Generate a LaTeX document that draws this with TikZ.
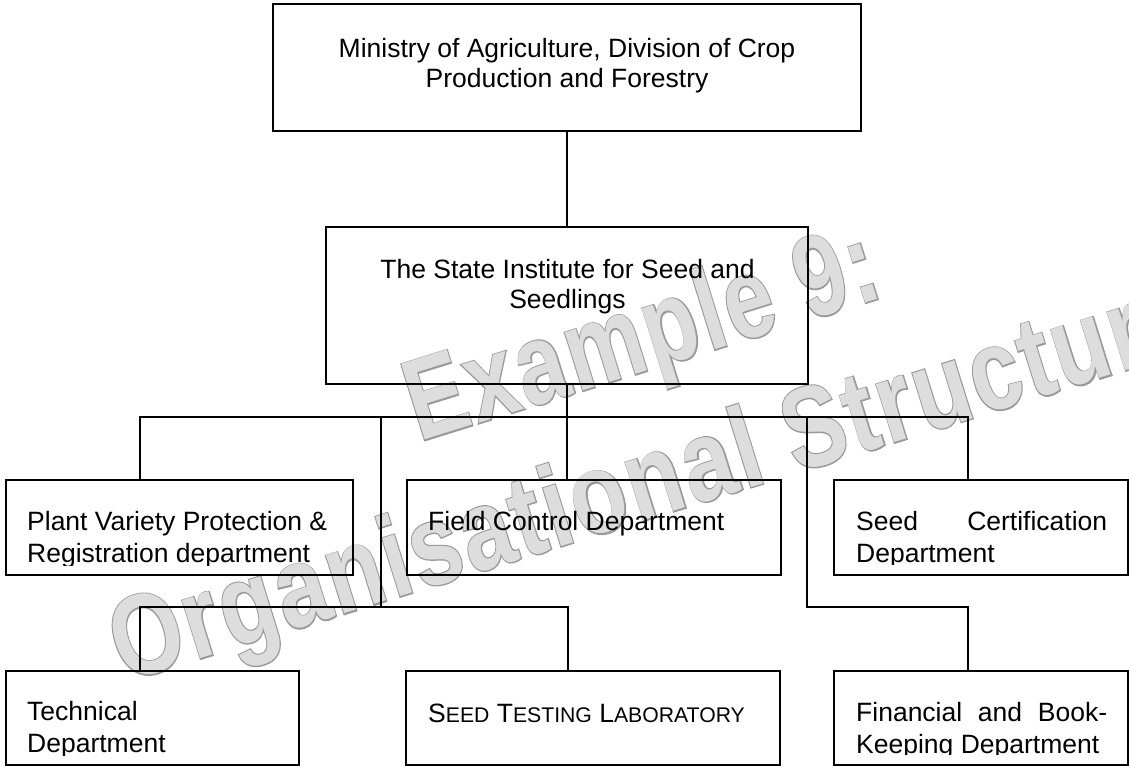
\documentclass[tikz,border=0pt]{standalone}
\usepackage{fontspec}
\setmainfont{Liberation Sans}
\newfontfamily\wmfillfont{Liberation Sans Bold}[LetterSpace=3]
\newfontfamily\wmedgefont{Liberation Sans Bold}[LetterSpace=3,FakeBold=2.2]
\usetikzlibrary{calc}
\definecolor{wmfill}{HTML}{DDDDDD}
\definecolor{wmedge}{HTML}{9A9A9A}
\newcommand{\toplblsize}{\fontsize{26.5pt}{30pt}\selectfont}
\newcommand{\lowlblsize}{\fontsize{26.5pt}{32pt}\selectfont}
\newcommand{\sclow}[1]{{\fontsize{21.2pt}{32pt}\selectfont #1}}
\newcommand{\wmtext}[3]{\scalebox{#1}[1]{\fontsize{115pt}{115pt}\selectfont#2 #3}}
\tikzset{
  box/.style={draw, line width=1.7pt, inner sep=0pt, outer sep=0pt, anchor=north west},
  conn/.style={line width=1.3pt},
  toplbl/.style={inner sep=0pt, anchor=base, font=\toplblsize},
  lowlbl/.style={inner sep=0pt, anchor=base west, font=\lowlblsize},
  wm/.style={inner sep=0pt, anchor=base west, rotate=17.3},
}
\begin{document}
\begin{tikzpicture}[x=1pt, y=-1pt]
\useasboundingbox (0,0) rectangle (1129,766);

% watermark (behind everything)
\node[wm, text=wmedge] (wm1e) at (393,450) {\wmtext{0.77}{\wmedgefont}{Example 9:}};
\node[wm, text=wmedge] (wm2e) at (97,691) {\wmtext{0.795}{\wmedgefont}{Organisational Structure}};
\node[wm, text=wmfill] (wm1f) at (393,450) {\wmtext{0.77}{\wmfillfont}{Example 9:}};
\node[wm, text=wmfill] (wm2f) at (97,691) {\wmtext{0.795}{\wmfillfont}{Organisational Structure}};

% boxes
\node[box, minimum width=588pt, minimum height=127pt] (top) at (273,4) {};
\node[box, minimum width=482pt, minimum height=157pt] (inst) at (326,227) {};
\node[box, minimum width=347pt, minimum height=95pt] (pv) at (6,480) {};
\node[box, minimum width=374pt, minimum height=95pt] (fc) at (407,480) {};
\node[box, minimum width=294pt, minimum height=95pt] (sc) at (834,480) {};
\node[box, minimum width=293pt, minimum height=94pt] (tech) at (6,671) {};
\node[box, minimum width=374pt, minimum height=94pt] (test) at (406,671) {};
\node[box, minimum width=294pt, minimum height=94pt] (fin) at (834,671) {};

% labels
\node[toplbl] (topt) at (567,57) {\begin{tabular}[t]{@{}c@{}}Ministry of Agriculture, Division of Crop\\Production and Forestry\end{tabular}};
\node[toplbl] (instt) at (567.5,278) {\begin{tabular}[t]{@{}c@{}}The State Institute for Seed and\\Seedlings\end{tabular}};

\begin{scope}
\clip (pv.north west) rectangle ($(pv.south east)+(0,-10)$);
\node[lowlbl] (pvt) at ($(pv.north west)+(21,50)$) {\parbox[t]{320pt}{\raggedright Plant Variety Protection \&\\Registration department}};
\end{scope}
\node[lowlbl] (fct) at ($(fc.north west)+(21,50)$) {Field Control Department};
\begin{scope}
\clip (sc.north west) rectangle ($(sc.south east)+(0,-11)$);
\node[lowlbl] (sct) at ($(sc.north west)+(22,50)$) {\parbox[t]{251pt}{Seed\hfill Certification\\Department}};
\end{scope}
\begin{scope}
\clip (tech.north west) rectangle ($(tech.south east)+(0,-10)$);
\node[lowlbl] (techt) at ($(tech.north west)+(21,49)$) {\parbox[t]{251pt}{\raggedright Technical\\Department}};
\end{scope}
\node[lowlbl] (testt) at ($(test.north west)+(22,51)$) {S\sclow{EED} T\sclow{ESTING} L\sclow{ABORATORY}};
\begin{scope}
\clip (fin.north west) rectangle ($(fin.south east)+(0,-11)$);
\node[lowlbl] (fint) at ($(fin.north west)+(22,50)$) {\parbox[t]{251pt}{Financial\hfill and\hfill Book-\\Keeping Department}};
\end{scope}

% connectors
\coordinate (bl) at (140,417);
\coordinate (br) at (968,417);
\coordinate (bm) at (381,417);
\coordinate (lbl) at (140,607);
\coordinate (lbm) at (381,607);
\coordinate (lbr) at (568,607);
\coordinate (rb) at (807,417);
\coordinate (rl) at (807,607);
\coordinate (rr) at (968,607);

\draw[conn] (top.south) -- (top.south |- inst.north);
\draw[conn] (inst.south) -- (inst.south |- fc.north);
\draw[conn] (bl |- pv.north) -- (bl) -- (br) -- (br |- sc.north);
\draw[conn] (bm) -- (lbm);
\draw[conn] (lbl |- tech.north) -- (lbl) -- (lbr) -- (lbr |- test.north);
\draw[conn] (rb) -- (rl) -- (rr) -- (rr |- fin.north);
\end{tikzpicture}
\end{document}
